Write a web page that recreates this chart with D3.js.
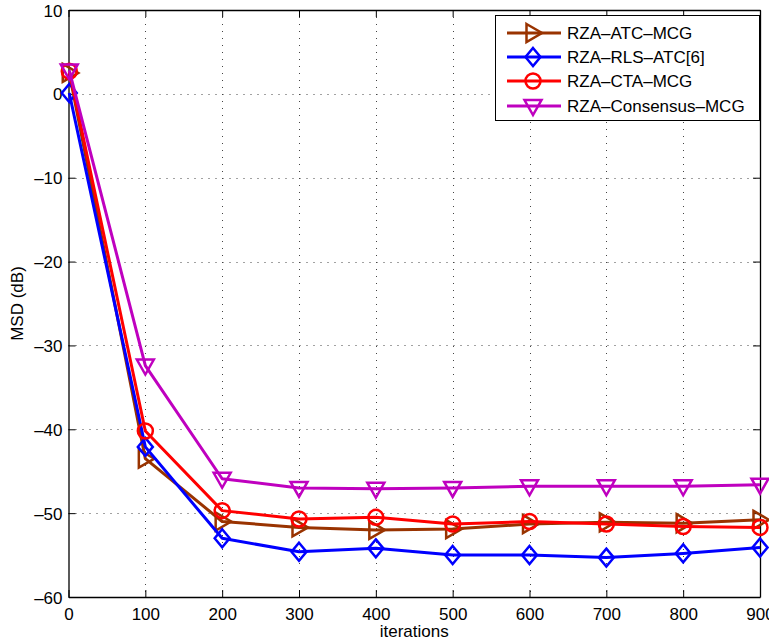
<!DOCTYPE html>
<html>
<head>
<meta charset="utf-8">
<script src="https://cdn.jsdelivr.net/npm/d3@7/dist/d3.min.js"></script>
<style>
  body { margin: 0; background: #fff; }
  svg { font-family: "Liberation Sans", Arial, sans-serif; }
</style>
</head>
<body>
<div id="chart"></div>
<script>
// data
var iterations = [1, 100, 200, 300, 400, 500, 600, 700, 800, 900];
var atcMcg      = [2.5, -43.5, -51.0, -51.7, -52.0, -51.9, -51.3, -51.1, -51.2, -50.8];
var rlsAtc      = [0.1, -42.1, -53.0, -54.6, -54.2, -55.0, -55.0, -55.3, -54.8, -54.1];
var ctaMcg      = [2.7, -40.2, -49.7, -50.7, -50.5, -51.3, -51.0, -51.3, -51.6, -51.7];
var consensus   = [2.8, -32.4, -45.9, -47.0, -47.1, -47.0, -46.8, -46.8, -46.8, -46.6];
var seriesNames = ["RZA\u2013ATC\u2013MCG", "RZA\u2013RLS\u2013ATC[6]", "RZA\u2013CTA\u2013MCG", "RZA\u2013Consensus\u2013MCG"];
var xTicks = [0, 100, 200, 300, 400, 500, 600, 700, 800, 900];
var yTicks = [-60, -50, -40, -30, -20, -10, 0, 10];

var series = [
  {name: seriesNames[0], values: atcMcg, color: "#993300", marker: "right"},
  {name: seriesNames[1], values: rlsAtc, color: "#0000ff", marker: "diamond"},
  {name: seriesNames[2], values: ctaMcg, color: "#ff0000", marker: "circle"},
  {name: seriesNames[3], values: consensus, color: "#bf00bf", marker: "down"}
];

var W = 769, H = 644;
var pL = 68.5, pR = 760, pT = 10, pB = 597;

var svg = d3.select("#chart").append("svg").attr("width", W).attr("height", H);

var x = d3.scaleLinear().domain([0, 900]).range([pL, pR]);
var y = d3.scaleLinear().domain([-60, 10]).range([pB, pT]);

function fmt(v) { return v < 0 ? "\u2013" + Math.abs(v) : String(v); }

/* grid */
var grid = svg.append("g").attr("stroke", "#444").attr("stroke-width", 1).attr("stroke-dasharray", "1,6");
grid.selectAll("line.gx").data(xTicks.filter(function(d){ return d > 0 && d < 900; }))
  .enter().append("line")
  .attr("x1", function(d){ return Math.round(x(d)) + 0.5; }).attr("x2", function(d){ return Math.round(x(d)) + 0.5; })
  .attr("y1", pT).attr("y2", pB);
grid.selectAll("line.gy").data(yTicks.filter(function(d){ return d > -60 && d < 10; }))
  .enter().append("line")
  .attr("y1", function(d){ return Math.round(y(d)) + 0.5; }).attr("y2", function(d){ return Math.round(y(d)) + 0.5; })
  .attr("x1", pL).attr("x2", pR);

/* axes: bottom/left with labels, top/right ticks only */
var tk = 7;
var axB = svg.append("g").attr("transform", "translate(0," + pB + ")")
  .call(d3.axisBottom(x).tickValues(xTicks).tickSizeInner(-tk).tickSizeOuter(0).tickPadding(11).tickFormat(fmt));
var axT = svg.append("g").attr("transform", "translate(0," + pT + ")")
  .call(d3.axisTop(x).tickValues(xTicks).tickSizeInner(-tk).tickSizeOuter(0).tickFormat(""));
var axL = svg.append("g").attr("transform", "translate(" + pL + ",0)")
  .call(d3.axisLeft(y).tickValues(yTicks).tickSizeInner(-tk).tickSizeOuter(0).tickPadding(6).tickFormat(fmt));
var axR = svg.append("g").attr("transform", "translate(" + pR + ",0)")
  .call(d3.axisRight(y).tickValues(yTicks).tickSizeInner(-tk).tickSizeOuter(0).tickFormat(""));
[axB, axT, axL, axR].forEach(function(a) {
  a.select(".domain").attr("stroke", "#000").attr("stroke-width", 1.3);
  a.selectAll(".tick line").attr("stroke", "#000").attr("stroke-width", 1);
  a.selectAll("text").attr("font-size", "17px").attr("fill", "#000").attr("font-family", "Liberation Sans, Arial, sans-serif");
});
axL.selectAll(".tick text").attr("dy", "0.36em");
axB.selectAll(".tick text").attr("dy", "0.71em");

/* axis titles */
svg.append("text").attr("x", (pL + pR) / 2).attr("y", 637).attr("text-anchor", "middle")
  .attr("font-size", "17px").text("iterations");
svg.append("text").attr("transform", "translate(23," + ((pT + pB) / 2) + ") rotate(-90)")
  .attr("text-anchor", "middle").attr("font-size", "17px").text("MSD (dB)");

/* markers */
function markerPath(kind) {
  if (kind === "right") return "M-6.5,-9L9,0L-6.5,9Z";
  if (kind === "down") return "M-8.5,-6L8.5,-6L0,9Z";
  if (kind === "diamond") return "M0,-9L7.5,0L0,9L-7.5,0Z";
  return d3.symbol().type(d3.symbolCircle).size(Math.PI * 7.5 * 7.5)();
}

var line = d3.line().x(function(d){ return x(d[0]); }).y(function(d){ return y(d[1]); });

series.forEach(function(s) {
  var pts = iterations.map(function(it, i){ return [it, s.values[i]]; });
  var g = svg.append("g");
  g.append("path").datum(pts).attr("d", line).attr("fill", "none")
    .attr("stroke", s.color).attr("stroke-width", 3).attr("stroke-linejoin", "round");
  g.selectAll("path.mk").data(pts).enter().append("path")
    .attr("transform", function(d){ return "translate(" + x(d[0]) + "," + y(d[1]) + ")"; })
    .attr("d", markerPath(s.marker)).attr("fill", "none")
    .attr("stroke", s.color).attr("stroke-width", 2.5);
});

/* legend */
var lg = svg.append("g");
lg.append("rect").attr("x", 495.5).attr("y", 15.5).attr("width", 264).attr("height", 105)
  .attr("fill", "#fff").attr("stroke", "#000").attr("stroke-width", 1);
var rowY = [33, 57, 81, 106];
series.forEach(function(s, i) {
  var r = lg.append("g").attr("transform", "translate(0," + rowY[i] + ")");
  r.append("line").attr("x1", 507).attr("x2", 561).attr("stroke", s.color).attr("stroke-width", 3);
  r.append("path").attr("transform", "translate(533,0)").attr("d", markerPath(s.marker))
    .attr("fill", "none").attr("stroke", s.color).attr("stroke-width", 2.5);
  r.append("text").attr("x", 567).attr("dy", "0.36em").attr("font-size", "17px").text(s.name);
});
</script>
</body>
</html>
